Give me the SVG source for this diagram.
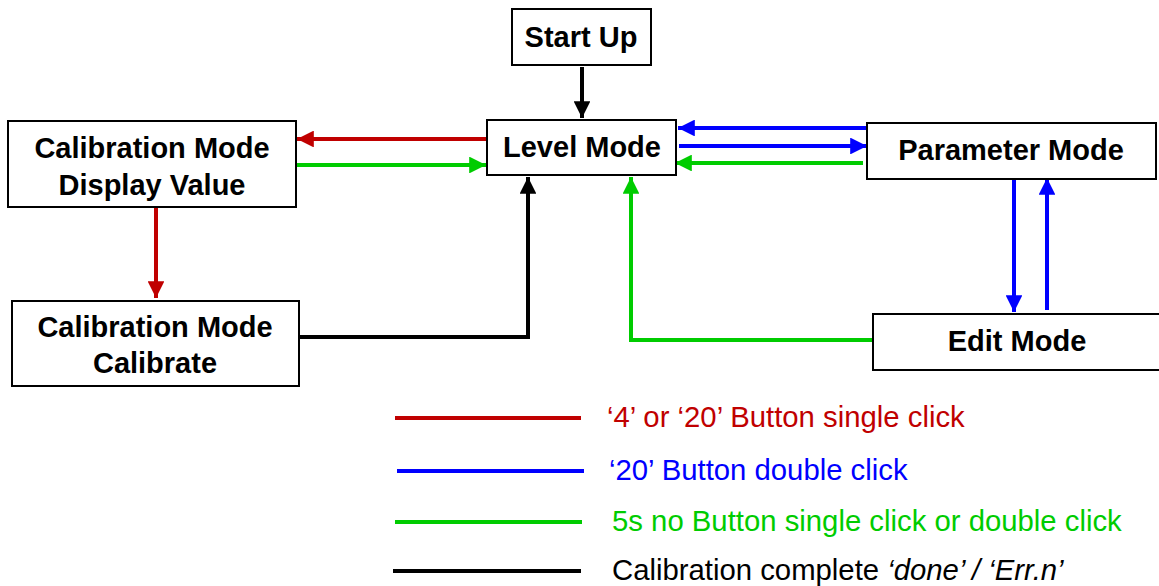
<svg xmlns="http://www.w3.org/2000/svg" width="1159" height="586" viewBox="0 0 1159 586">
<style>
.box{fill:#fff;stroke:#000;stroke-width:2}
.lbl{font-family:"Liberation Sans",Arial,sans-serif;font-weight:bold;font-size:29px;text-anchor:middle;fill:#000}
.leg{font-family:"Liberation Sans",Arial,sans-serif;font-size:29.3px}
.r{stroke:#C00000}.b{stroke:#0000FF}.g{stroke:#00CC00}.k{stroke:#000}
.c{fill:none;stroke-width:4}
</style>
<defs>
<marker id="ar" viewBox="0 0 10 10" refX="10" refY="5" markerWidth="4.5" markerHeight="4.2" orient="auto" markerUnits="strokeWidth"><path d="M0,0L10,5L0,10z" fill="#C00000"/></marker>
<marker id="ab" viewBox="0 0 10 10" refX="10" refY="5" markerWidth="4.5" markerHeight="4.2" orient="auto" markerUnits="strokeWidth"><path d="M0,0L10,5L0,10z" fill="#0000FF"/></marker>
<marker id="ag" viewBox="0 0 10 10" refX="10" refY="5" markerWidth="4.5" markerHeight="4.2" orient="auto" markerUnits="strokeWidth"><path d="M0,0L10,5L0,10z" fill="#00CC00"/></marker>
<marker id="ak" viewBox="0 0 10 10" refX="10" refY="5" markerWidth="4.5" markerHeight="4.2" orient="auto" markerUnits="strokeWidth"><path d="M0,0L10,5L0,10z" fill="#000"/></marker>
</defs>
<g id="connectors">
<path class="c k" d="M582,67V118" marker-end="url(#ak)"/>
<path class="c r" d="M487,139H297" marker-end="url(#ar)"/>
<path class="c g" d="M297,165H486" marker-end="url(#ag)"/>
<path class="c r" d="M156,208V298" marker-end="url(#ar)"/>
<path class="c k" d="M300,337H528V177" marker-end="url(#ak)"/>
<path class="c g" d="M873,340H631V177" marker-end="url(#ag)"/>
<path class="c b" d="M867,128H678" marker-end="url(#ab)"/>
<path class="c b" d="M679,146H867" marker-end="url(#ab)"/>
<path class="c g" d="M863,163H675" marker-end="url(#ag)"/>
<path class="c b" d="M1014,180V312" marker-end="url(#ab)"/>
<path class="c b" d="M1047,310V178" marker-end="url(#ab)"/>
</g>
<g id="startup"><rect class="box" x="512" y="9" width="139" height="56"/><text class="lbl" x="581" y="47">Start Up</text></g>
<g id="level"><rect class="box" x="487" y="120" width="189" height="55"/><text class="lbl" x="582" y="157">Level Mode</text></g>
<g id="parameter"><rect class="box" x="867" y="123" width="289" height="56"/><text class="lbl" x="1011" y="160">Parameter Mode</text></g>
<g id="edit"><rect class="box" x="873" y="314" width="290" height="56"/><text class="lbl" x="1017" y="351">Edit Mode</text></g>
<g id="caldisplay"><rect class="box" x="8" y="121" width="288" height="86"/><text class="lbl" x="152" y="158">Calibration Mode</text><text class="lbl" x="152" y="195">Display Value</text></g>
<g id="calcalibrate"><rect class="box" x="12" y="301" width="287" height="85"/><text class="lbl" x="155" y="337">Calibration Mode</text><text class="lbl" x="155" y="373">Calibrate</text></g>
<g id="legend">
<path class="c r" d="M395,418H581"/>
<path class="c b" d="M397,471H584"/>
<path class="c g" d="M395,522H582"/>
<path class="c k" d="M393,571H581"/>
<text class="leg" x="607" y="427" fill="#C00000">‘4’ or ‘20’ Button single click</text>
<text class="leg" x="609" y="480" fill="#0000FF">‘20’ Button double click</text>
<text class="leg" x="612" y="531" fill="#00CC00">5s no Button single click or double click</text>
<text class="leg" x="612" y="580" fill="#000">Calibration complete <tspan font-style="italic">‘done’ / ‘Err.n’</tspan></text>
</g>
</svg>
